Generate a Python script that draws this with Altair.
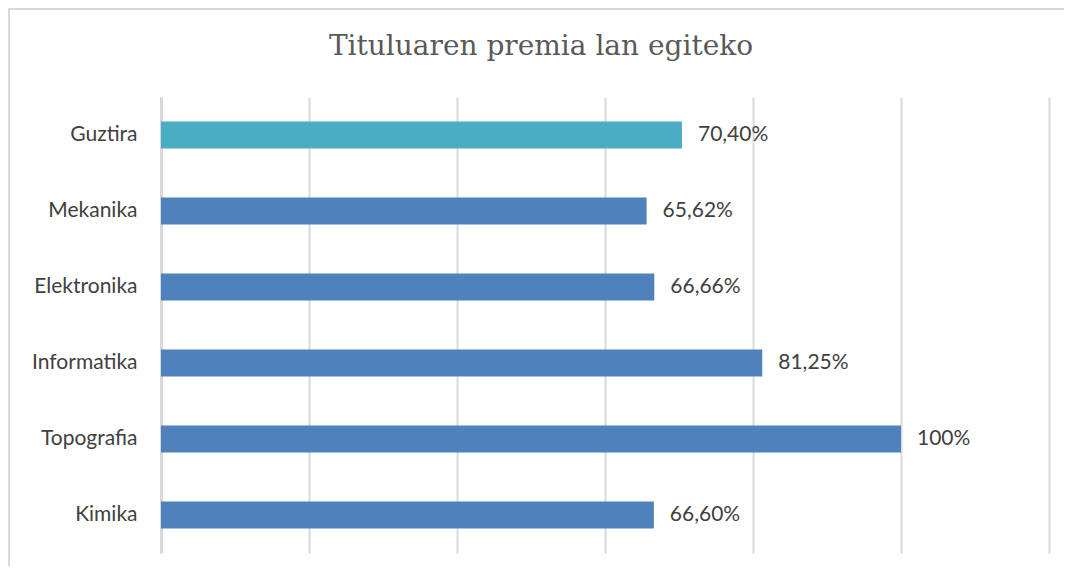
import altair as alt
import pandas as pd

categories = ["Guztira", "Mekanika", "Elektronika", "Informatika", "Topografia", "Kimika"]
values = [70.40, 65.62, 66.66, 81.25, 100.0, 66.60]
value_labels = ["70,40%", "65,62%", "66,66%", "81,25%", "100%", "66,60%"]
groups = ["Guztira", "Saila", "Saila", "Saila", "Saila", "Saila"]
x_ticks = [0, 20, 40, 60, 80, 100, 120]
title_text = "Tituluaren premia lan egiteko"

df = pd.DataFrame({"cat": categories, "val": values, "lbl": value_labels, "grp": groups})

LABEL_FONT = "Lato"

y_enc = alt.Y(
    "cat:N",
    sort=categories,
    title=None,
    scale=alt.Scale(paddingInner=0.645, paddingOuter=0.3225),
    axis=alt.Axis(
        domain=True, domainColor="#d9d9d9", domainWidth=3,
        ticks=False, labelPadding=24, labelFont=LABEL_FONT,
        labelFontSize=21, labelColor="#404040", grid=False,
    ),
)
x_enc = alt.X(
    "val:Q",
    title=None,
    scale=alt.Scale(domain=[0, 120], nice=False, zero=True),
    axis=alt.Axis(
        values=x_ticks, labels=False, ticks=False, domain=False,
        grid=True, gridColor="#d9d9d9", gridWidth=2,
    ),
)

bars = alt.Chart(df).mark_bar().encode(
    x=x_enc,
    y=y_enc,
    color=alt.Color(
        "grp:N",
        scale=alt.Scale(domain=["Guztira", "Saila"], range=["#4bacc6", "#4f81bd"]),
        legend=None,
    ),
)

texts = alt.Chart(df).mark_text(
    align="left", baseline="middle", dx=16, font=LABEL_FONT, fontSize=21, color="#404040"
).encode(
    x=alt.X("val:Q"),
    y=alt.Y("cat:N", sort=categories),
    text="lbl:N",
)

border = alt.Chart(pd.DataFrame({"a": [0]})).mark_rect(
    fill=None, stroke="#d9d9d9", strokeWidth=2
).encode(
    x=alt.value(-152), x2=alt.value(1000), y=alt.value(-88), y2=alt.value(700)
)

title = alt.Chart(pd.DataFrame({"t": [title_text]})).mark_text(
    align="center", baseline="middle", font="DejaVu Serif", fontSize=28, color="#595959"
).encode(
    text="t:N", x=alt.value(380), y=alt.value(-50)
)

chart = alt.layer(border, bars, texts, title).properties(
    width=888,
    height=456,
    padding={"left": 153, "top": 89, "right": 15, "bottom": 13},
    autosize=alt.AutoSizeParams(type="none"),
).configure_view(stroke=None)

chart.save("out.html", embed_options={"renderer": "svg", "actions": False})
